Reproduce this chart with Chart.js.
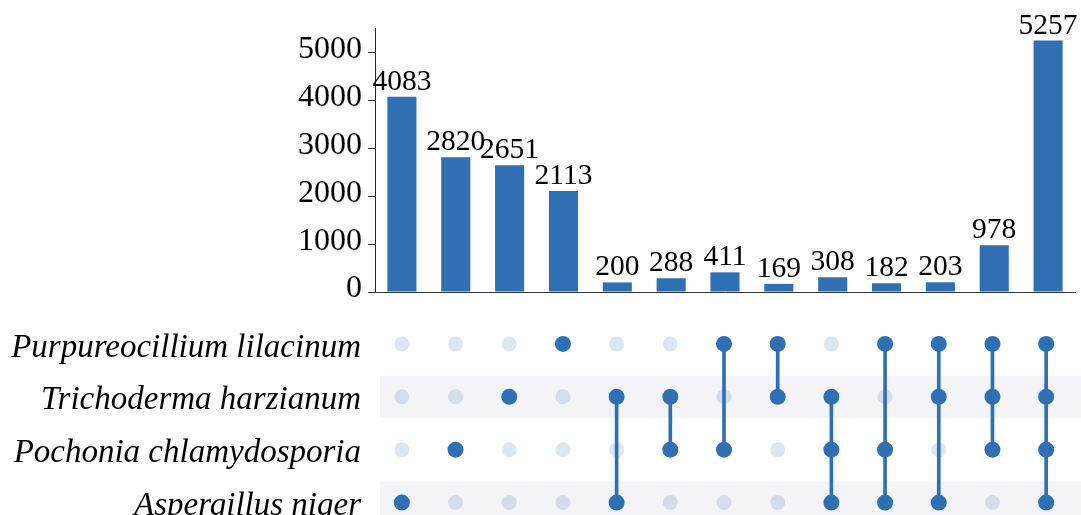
<!DOCTYPE html>
<html lang="en">
  <head>
    <meta charset="UTF-8" />
    <title>UpSet plot</title>
    <script src="https://cdn.jsdelivr.net/npm/chart.js"></script>
    <style>
      html, body { margin: 0; padding: 0; background: #fff; overflow: hidden; }
      #bars { position: absolute; left: 0; top: 0; }
      #matrix { position: absolute; left: 0; top: 300px; }
    </style>
  </head>
  <body>
    <canvas id="bars" width="1081" height="300"></canvas>
    <canvas id="matrix" width="1081" height="240"></canvas>

    <script>
      // Sets (rows of the matrix, top to bottom)
      const sets = [
        "Purpureocillium lilacinum",
        "Trichoderma harzianum",
        "Pochonia chlamydosporia",
        "Aspergillus niger",
      ];
      // Which sets belong to each intersection (index into sets)
      const members = [
        [3], [2], [1], [0],
        [1, 3], [1, 2], [0, 2], [0, 1],
        [1, 2, 3], [0, 2, 3], [0, 1, 3], [0, 1, 2],
        [0, 1, 2, 3],
      ];
      // Intersection sizes
      const counts = [4083, 2820, 2651, 2113, 200, 288, 411, 169, 308, 182, 203, 978, 5257];
      const yTicks = [0, 1000, 2000, 3000, 4000, 5000];

      const blue = "#2f6fb4";
      const serif = "'Liberation Serif', 'Times New Roman', serif";

      // column labels like "Trichoderma&Aspergillus"
      const combos = members.map((m) => m.map((i) => sets[i].split(" ")[0]).join("&"));
      // row value in the matrix: top row = 3
      const rowVal = (r) => sets.length - 1 - r;

      // numbers above the bars
      const barLabels = {
        id: "barLabels",
        afterDatasetsDraw(chart) {
          const ctx = chart.ctx;
          const meta = chart.getDatasetMeta(0);
          ctx.save();
          ctx.font = "29.5px " + serif;
          ctx.fillStyle = "#000";
          ctx.textAlign = "center";
          ctx.textBaseline = "alphabetic";
          meta.data.forEach((bar, i) => {
            ctx.fillText(counts[i], bar.x, bar.y - 7);
          });
          ctx.restore();
        },
      };

      // no extra room for half labels at the axis ends
      const noPad = (s) => {
        s.paddingTop = 0;
        s.paddingBottom = 0;
      };

      new Chart(document.getElementById("bars"), {
        type: "bar",
        data: {
          labels: combos,
          datasets: [
            {
              data: counts,
              backgroundColor: blue,
              barPercentage: 0.54,
              categoryPercentage: 1,
            },
          ],
        },
        options: {
          responsive: false,
          animation: false,
          layout: { padding: { top: 28, right: 6, left: 0, bottom: 8 } },
          plugins: { legend: { display: false }, tooltip: { enabled: false } },
          scales: {
            x: {
              offset: true,
              grid: { display: false },
              ticks: { display: false },
              border: { display: true, color: "#333", width: 1 },
              afterFit: (s) => { s.height = 0; },
            },
            y: {
              min: 0,
              max: 5520,
              afterBuildTicks: (s) => { s.ticks = yTicks.map((v) => ({ value: v })); },
              afterFit: (s) => { s.width = 375; noPad(s); },
              grid: { drawOnChartArea: false, drawTicks: true, tickLength: 7, color: "#333" },
              border: { display: true, color: "#222", width: 1 },
              ticks: {
                color: "#000",
                padding: 6,
                labelOffset: -3,
                font: { family: serif, size: 32 },
                callback: (v) => String(v),
              },
            },
          },
        },
        plugins: [barLabels],
      });

      // light bands behind every second row
      const bands = {
        id: "bands",
        beforeDatasetsDraw(chart) {
          const ctx = chart.ctx;
          const y = chart.scales.y;
          ctx.save();
          ctx.fillStyle = "#f3f3f8";
          sets.forEach((s, r) => {
            if (r % 2 === 1) {
              const py = y.getPixelForValue(rowVal(r));
              ctx.fillRect(380, py - 21, chart.width - 380, 42);
            }
          });
          ctx.restore();
        },
      };

      const active = [];
      const inactive = [];
      const inactiveColors = [];
      const spans = [];
      members.forEach((m, c) => {
        sets.forEach((s, r) => {
          const pt = { x: combos[c], y: rowVal(r) };
          if (m.includes(r)) active.push(pt);
          else {
            inactive.push(pt);
            inactiveColors.push(r % 2 === 1 ? "#d5ddeb" : "#dbe7f1");
          }
        });
        const vals = m.map(rowVal);
        spans.push({ x: combos[c], y: [Math.min(...vals), Math.max(...vals)] });
      });

      new Chart(document.getElementById("matrix"), {
        type: "bar",
        data: {
          labels: combos,
          datasets: [
            {
              type: "line",
              data: active,
              showLine: false,
              pointRadius: 8,
              pointBorderWidth: 0,
              pointBackgroundColor: blue,
              order: 0,
            },
            {
              type: "bar",
              data: spans,
              backgroundColor: blue,
              barThickness: 3,
              borderWidth: 0,
              order: 1,
            },
            {
              type: "line",
              data: inactive,
              showLine: false,
              pointRadius: 7.5,
              pointBorderWidth: 0,
              pointBackgroundColor: inactiveColors,
              order: 2,
            },
          ],
        },
        options: {
          responsive: false,
          animation: false,
          layout: { padding: { top: 17.5, right: 6, left: 0, bottom: 11 } },
          plugins: { legend: { display: false }, tooltip: { enabled: false } },
          scales: {
            x: { type: "category", offset: true, display: false },
            y: {
              type: "linear",
              min: -0.5,
              max: sets.length - 0.5,
              afterBuildTicks: (s) => { s.ticks = sets.map((n, r) => ({ value: rowVal(r) })); },
              afterFit: (s) => { s.width = 375; noPad(s); },
              grid: { display: false },
              border: { display: false },
              ticks: {
                color: "#000",
                padding: 6,
                labelOffset: 4,
                font: { family: serif, size: 33, style: "italic" },
                callback: (v) => sets[sets.length - 1 - v],
              },
            },
          },
        },
        plugins: [bands],
      });
    </script>
  </body>
</html>
